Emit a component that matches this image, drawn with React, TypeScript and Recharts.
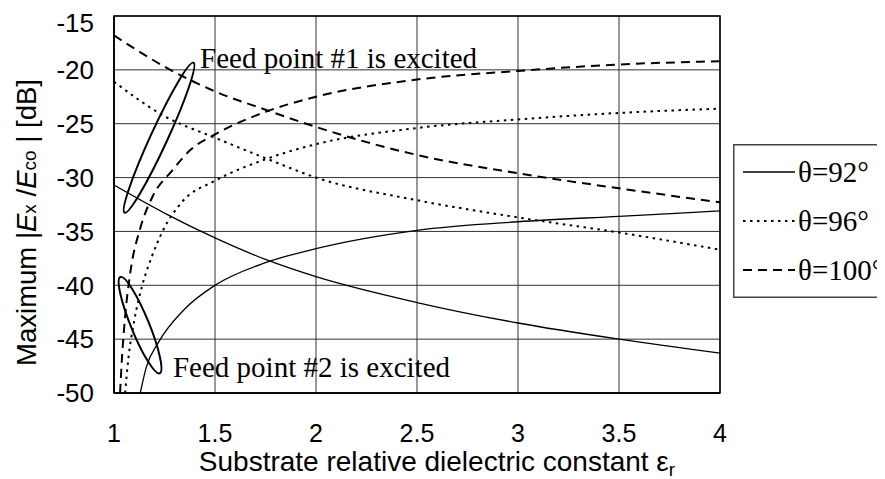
import React from 'react';
import { LineChart, Line, XAxis, YAxis, CartesianGrid, ReferenceArea, ReferenceDot, Legend } from 'recharts';

// ---- axis ticks ----
const X_TICKS = [1, 1.5, 2, 2.5, 3, 3.5, 4];
const Y_TICKS = [-50, -45, -40, -35, -30, -25, -20, -15];

// ---- feed point #1 excited (decreasing curves) ----
const feed1X = [1, 1.25, 1.5, 1.75, 2, 2.5, 3, 3.5, 4];
const theta92Feed1 = [-30.7, -33.3, -35.6, -37.6, -39.2, -41.6, -43.5, -45.0, -46.3];
const theta96Feed1 = [-21.1, -24.3, -26.3, -28.2, -30.0, -32.1, -33.7, -35.1, -36.7];
const theta100Feed1 = [-16.8, -19.7, -22.0, -23.7, -25.3, -27.9, -29.6, -31.0, -32.3];

// ---- feed point #2 excited (increasing curves) ----
const theta92Feed2X = [1.13, 1.16, 1.22, 1.35, 1.5, 1.75, 2, 2.5, 3, 3.5, 4];
const theta92Feed2 = [-50, -47.6, -45.3, -42.2, -40.0, -37.9, -36.6, -34.9, -34.1, -33.6, -33.1];
const theta96Feed2X = [1.055, 1.07, 1.1, 1.14, 1.19, 1.24, 1.34, 1.5, 1.75, 2, 2.5, 3, 3.5, 4];
const theta96Feed2 = [-50, -47.0, -43.3, -40.0, -37.2, -35.0, -32.2, -30.3, -28.3, -26.9, -25.4, -24.6, -24.0, -23.6];
const theta100Feed2X = [1.03, 1.04, 1.055, 1.08, 1.13, 1.19, 1.29, 1.38, 1.5, 1.75, 2, 2.5, 3, 3.5, 4];
const theta100Feed2 = [-50, -46.6, -42.9, -38.9, -34.7, -31.8, -29.3, -27.4, -26.0, -23.9, -22.5, -20.9, -20.1, -19.5, -19.2];

const SERIES_NAMES = ['θ=92°', 'θ=96°', 'θ=100°'];

// ---- annotations (data coordinates) ----
const ANNOTATION_TEXTS = ['Feed point #1 is excited', 'Feed point #2 is excited'];
const ANNOTATION_X = [1.426, 1.292];
const ANNOTATION_Y = [-19.8, -48.5];
const ELLIPSE_X = [1.223, 1.129];
const ELLIPSE_Y = [-26.3, -43.7];

const toPoints = (xs: number[], ys: number[]) => xs.map((x, i) => ({ x, y: ys[i] }));

const DASH = { solid: undefined as any, dotted: '2.5 4.5', dashed: '9 6' };
const STROKE_W = { solid: 1.3, dotted: 2, dashed: 2 };

const SANS = '"Liberation Sans", Arial, sans-serif';
const SERIF = '"Liberation Serif", "Times New Roman", serif';

const ellipseShapes = [
  { rx: 82.5, ry: 8.5, angle: -65.3 },
  { rx: 52, ry: 9, angle: 67.8 },
];

const makeEllipse = (idx: number) => (props: any) => {
  const { cx, cy } = props;
  const e = ellipseShapes[idx];
  return (
    <ellipse cx={cx} cy={cy} rx={e.rx} ry={e.ry} fill="none" stroke="#000" strokeWidth={2}
      transform={`rotate(${e.angle} ${cx} ${cy})`} />
  );
};

const makeText = (idx: number) => (props: any) => {
  const { cx, cy } = props;
  return (
    <text x={cx} y={cy} fill="#000" fontFamily={SERIF} fontSize={29} textAnchor="start">
      {ANNOTATION_TEXTS[idx]}
    </text>
  );
};

const YLabel = (props: any) => {
  const vb = props.viewBox || { x: 0, y: 8, width: 106, height: 377 };
  const cx = 18;
  const cy = vb.y + vb.height / 2 + 18;
  return (
    <text x={cx} y={cy} transform={`rotate(-90 ${cx} ${cy})`} textAnchor="middle" dominantBaseline="central"
      fontFamily={SANS} fontSize={27.5} fill="#000">
      <tspan>Maximum |</tspan>
      <tspan fontStyle="italic">E</tspan>
      <tspan fontSize={19} dy={3}>x</tspan>
      <tspan dy={-3}> /</tspan>
      <tspan fontStyle="italic">E</tspan>
      <tspan fontSize={19} dy={3}>co</tspan>
      <tspan dy={-3}> | [dB]</tspan>
    </text>
  );
};

const XLabel = (props: any) => {
  const vb = props.viewBox || { x: 106, y: 385, width: 606, height: 86 };
  const cx = vb.x + vb.width / 2 + 20;
  const y = 463;
  return (
    <text x={cx} y={y} textAnchor="middle" fontFamily={SANS} fontSize={28} fill="#000">
      <tspan>Substrate relative dielectric constant ε</tspan>
      <tspan fontSize={19} dy={5}>r</tspan>
    </text>
  );
};

const LEGEND_DASHES = [DASH.solid, DASH.dotted, DASH.dashed];
const LEGEND_WIDTHS = [STROKE_W.solid, STROKE_W.dotted, STROKE_W.dashed];

const LegendContent = (props: any) => {
  const payload = (props.payload || [])
    .filter((p: any) => SERIES_NAMES.indexOf(p.value) >= 0)
    .sort((a: any, b: any) => SERIES_NAMES.indexOf(a.value) - SERIES_NAMES.indexOf(b.value));
  return (
    <svg width={170} height={154} style={{ display: 'block' }}>
      <rect x={0.75} y={0.75} width={200} height={152.5} fill="#fff" stroke="#444" strokeWidth={1.5} />
      {payload.map((entry: any, i: number) => {
        const idx = SERIES_NAMES.indexOf(entry.value);
        const y = 28 + idx * 49;
        return (
          <g key={i}>
            <line x1={10} x2={62} y1={y} y2={y} stroke="#000" strokeWidth={LEGEND_WIDTHS[idx]}
              strokeDasharray={LEGEND_DASHES[idx]} />
            <text x={65} y={y + 10} fontFamily={SERIF} fontSize={29} fill="#000">{entry.value}</text>
          </g>
        );
      })}
    </svg>
  );
};

export default function App() {
  return (
    <div style={{ width: 877, height: 471, overflow: 'hidden', position: 'relative' }}>
      <LineChart width={877} height={471} margin={{ top: 8, right: 165, bottom: 0, left: 0 }}>
        <CartesianGrid stroke="#333" strokeWidth={1} />
        <XAxis dataKey="x" type="number" domain={[1, 4]} ticks={X_TICKS} allowDataOverflow
          tickLine={false} tickSize={0} tickMargin={31} height={86}
          axisLine={{ stroke: '#000', strokeWidth: 1.5 }}
          tick={{ fill: '#000', fontSize: 25, fontFamily: SANS }}
          label={<XLabel />} />
        <YAxis type="number" domain={[-50, -15]} ticks={Y_TICKS} allowDataOverflow width={106}
          tickLine={false} tickSize={0} tickMargin={20}
          axisLine={{ stroke: '#000', strokeWidth: 1.5 }}
          tick={{ fill: '#000', fontSize: 26, fontFamily: SANS }}
          label={<YLabel />} />
        <ReferenceArea x1={1} x2={4} y1={-50} y2={-15} fill="none" stroke="#000" strokeWidth={1.5} />

        <Line data={toPoints(feed1X, theta92Feed1)} dataKey="y" name={SERIES_NAMES[0]} type="monotone"
          stroke="#000" strokeWidth={STROKE_W.solid} dot={false} isAnimationActive={false} />
        <Line data={toPoints(feed1X, theta96Feed1)} dataKey="y" name={SERIES_NAMES[1]} type="monotone"
          stroke="#000" strokeWidth={STROKE_W.dotted} strokeDasharray={DASH.dotted} dot={false} isAnimationActive={false} />
        <Line data={toPoints(feed1X, theta100Feed1)} dataKey="y" name={SERIES_NAMES[2]} type="monotone"
          stroke="#000" strokeWidth={STROKE_W.dashed} strokeDasharray={DASH.dashed} dot={false} isAnimationActive={false} />

        <Line data={toPoints(theta92Feed2X, theta92Feed2)} dataKey="y" name="θ=92° #2" type="monotone" legendType="none"
          stroke="#000" strokeWidth={STROKE_W.solid} dot={false} isAnimationActive={false} />
        <Line data={toPoints(theta96Feed2X, theta96Feed2)} dataKey="y" name="θ=96° #2" type="monotone" legendType="none"
          stroke="#000" strokeWidth={STROKE_W.dotted} strokeDasharray={DASH.dotted} dot={false} isAnimationActive={false} />
        <Line data={toPoints(theta100Feed2X, theta100Feed2)} dataKey="y" name="θ=100° #2" type="monotone" legendType="none"
          stroke="#000" strokeWidth={STROKE_W.dashed} strokeDasharray={DASH.dashed} dot={false} isAnimationActive={false} />

        <ReferenceDot x={ELLIPSE_X[0]} y={ELLIPSE_Y[0]} r={1} shape={makeEllipse(0)} />
        <ReferenceDot x={ELLIPSE_X[1]} y={ELLIPSE_Y[1]} r={1} shape={makeEllipse(1)} />
        <ReferenceDot x={ANNOTATION_X[0]} y={ANNOTATION_Y[0]} r={1} shape={makeText(0)} />
        <ReferenceDot x={ANNOTATION_X[1]} y={ANNOTATION_Y[1]} r={1} shape={makeText(1)} />

        <Legend layout="vertical" align="center" verticalAlign="middle"
          wrapperStyle={{ left: 725, top: 136, width: 170, height: 154 }}
          content={<LegendContent />} />
      </LineChart>
    </div>
  );
}
